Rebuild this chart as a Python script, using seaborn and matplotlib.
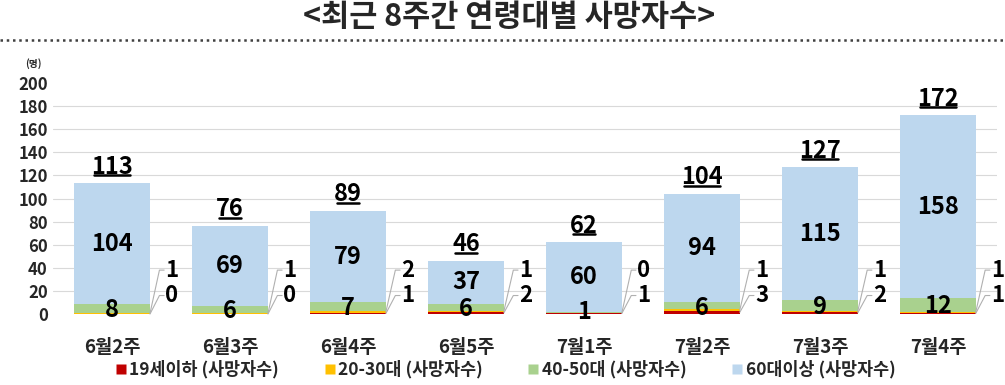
import numpy as np
import pandas as pd
import matplotlib
matplotlib.use('Agg')
import matplotlib.pyplot as plt
from matplotlib.lines import Line2D
import seaborn as sns

# 데이터
weeks = ['6월2주', '6월3주', '6월4주', '6월5주', '7월1주', '7월2주', '7월3주', '7월4주']
under19 = [0, 0, 1, 2, 1, 3, 2, 1]
age2030 = [1, 1, 2, 1, 0, 1, 1, 1]
age4050 = [8, 6, 7, 6, 1, 6, 9, 12]
over60 = [104, 69, 79, 37, 60, 94, 115, 158]
series_names = ['19세이하 (사망자수)', '20-30대 (사망자수)', '40-50대 (사망자수)', '60대이상 (사망자수)']
colors = ['#C00000', '#FFC000', '#A9D18E', '#BDD7EE']

df = pd.DataFrame({'week': weeks, 'u19': under19, 'a2030': age2030,
                   'a4050': age4050, 'o60': over60})
df['c1'] = df['u19']
df['c2'] = df['c1'] + df['a2030']
df['c3'] = df['c2'] + df['a4050']
df['total'] = df['c3'] + df['o60']

sns.set_theme(style='white')
plt.rcParams['font.family'] = ['Noto Sans CJK KR', 'DejaVu Sans']
W = 'bold'

fig = plt.figure(figsize=(10.05, 3.85), dpi=100)
ax = fig.add_axes([0.053, 0.1844, 0.939, 0.6])

bar_w = 0.64
# 누적 막대: 큰 것부터 겹쳐 그리기
for col, color in zip(['total', 'c3', 'c2', 'c1'], colors[::-1]):
    sns.barplot(data=df, x='week', y=col, order=weeks, color=color,
                width=bar_w, saturation=1, linewidth=0, ax=ax, zorder=2)

for yv in range(20, 200, 20):
    ax.axhline(yv, color='#D9D9D9', lw=0.8, zorder=0)

ax.set_ylim(0, 200)
ax.set_xlim(-0.5, 7.5)
ax.set_yticks(range(0, 201, 20))
ax.set_xlabel('')
ax.set_ylabel('')
sns.despine(ax=ax, left=True, bottom=True)
ax.tick_params(axis='y', labelsize=12, pad=4, length=0)
ax.tick_params(axis='x', labelsize=13.5, pad=17, length=0)
for t in ax.get_xticklabels() + ax.get_yticklabels():
    t.set_fontweight(W)

totals_txt = []
for i, r in df.iterrows():
    # 60대 이상
    ax.text(i, (r['c3'] + r['total']) / 2, str(r['o60']), ha='center', va='center',
            fontsize=17, fontweight=W, color='black', zorder=5)
    # 40-50대
    ax.text(i, max((r['c2'] + r['c3']) / 2 - 1.5, 1.5), str(r['a4050']), ha='center', va='center',
            fontsize=17, fontweight=W, color='black', zorder=5)
    # 합계
    t = ax.text(i, r['total'] + 14.5, str(r['total']), ha='center', va='center',
                fontsize=17, fontweight=W, color='black', zorder=5)
    totals_txt.append((t, r['total']))
    # 옆 라벨 (20-30대 위, 19세이하 아래)
    xr = i + bar_w / 2
    for val, yseg, ylab in [(r['a2030'], r['c1'] + r['a2030'] / 2, 38),
                            (r['u19'], r['c1'] / 2, 16)]:
        ax.plot([xr, xr + 0.08, xr + 0.12], [yseg, ylab, ylab], color='#B0B0B0',
                lw=0.8, zorder=4, clip_on=False)
        ax.text(xr + 0.13, ylab, str(val), ha='left', va='center',
                fontsize=16, fontweight=W, color='black', zorder=5)

# 합계 밑줄
fig.canvas.draw()
renderer = fig.canvas.get_renderer()
inv = ax.transData.inverted()
for t, tot in totals_txt:
    bb = t.get_window_extent(renderer)
    (x0, _), (x1, _) = inv.transform([(bb.x0 + 3, bb.y0), (bb.x1 - 3, bb.y0)])
    ax.plot([x0, x1], [tot + 7.0, tot + 7.0], color='black', lw=1.8, zorder=5, clip_on=False)

# 제목
fig.text(0.507, 0.955, '<최근 8주간 연령대별 사망자수>', ha='center', va='center',
         fontsize=22, fontweight=W)
fig.add_artist(Line2D([0.0, 1.0], [0.896, 0.896], transform=fig.transFigure,
                      color='#404040', lw=1.8, linestyle=(0, (1, 1.5))))
fig.text(0.033, 0.836, '(명)', ha='center', va='center', fontsize=7, fontweight=W)

handles = [Line2D([0], [0], marker='s', color='none', markerfacecolor=c,
                  markeredgecolor='none', markersize=7) for c in colors]
fig.legend(handles, series_names, loc='center', bbox_to_anchor=(0.503, 0.04), ncol=4,
           frameon=False, handlelength=0.6, handletextpad=0.2, columnspacing=2.6,
           prop={'size': 12.5, 'weight': W})

fig.savefig('out.png', dpi=100)
